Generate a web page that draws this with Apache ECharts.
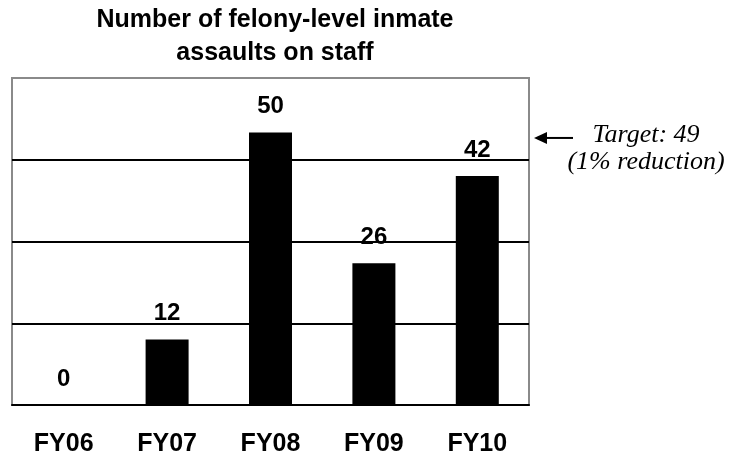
<!DOCTYPE html>
<html>
<head>
<meta charset="utf-8">
<script src="https://cdn.jsdelivr.net/npm/echarts@6/dist/echarts.min.js"></script>
<style>
  html, body { margin: 0; padding: 0; background: #fff; }
  #main { width: 731px; height: 458px; }
</style>
</head>
<body>
<div id="main"></div>
<script>
// data
var years = ['FY06', 'FY07', 'FY08', 'FY09', 'FY10'];
var assaults = [0, 12, 50, 26, 42];
var target = 49;
var titleText = 'Number of felony-level inmate\nassaults on staff';
var targetText = ['Target: 49', '(1% reduction)'];

var chart = echarts.init(document.getElementById('main'));

var option = {
  animation: false,
  title: {
    text: titleText,
    left: 270,
    top: -1,
    textAlign: 'center',
    textStyle: {
      fontFamily: 'Liberation Sans',
      fontWeight: 'bold',
      fontSize: 25,
      lineHeight: 33,
      color: '#000'
    }
  },
  grid: {
    left: 12,
    right: 202,
    top: 78,
    bottom: 53,
    show: true,
    borderColor: '#8a8a8a',
    borderWidth: 2
  },
  xAxis: {
    type: 'category',
    data: years,
    axisLine: { lineStyle: { color: '#000', width: 2 } },
    axisTick: { length: 8, lineStyle: { color: '#000', width: 2 } },
    axisLabel: {
      margin: 27,
      fontFamily: 'Liberation Sans',
      fontWeight: 'bold',
      fontSize: 25,
      color: '#000'
    }
  },
  yAxis: {
    type: 'value',
    min: 0,
    max: 60,
    interval: 15,
    axisLabel: { show: false },
    axisLine: { show: false },
    axisTick: { show: false },
    splitLine: {
      showMinLine: false,
      showMaxLine: false,
      lineStyle: { color: '#000', width: 2 }
    }
  },
  series: [{
    type: 'bar',
    data: assaults,
    barWidth: 43,
    itemStyle: { color: '#000' },
    label: {
      show: true,
      position: 'top',
      distance: 14,
      fontFamily: 'Liberation Sans',
      fontWeight: 'bold',
      fontSize: 24,
      color: '#000'
    }
  }]
};
chart.setOption(option);

// target arrow and note, placed with the chart's own y scale
var ty = chart.convertToPixel({ yAxisIndex: 0 }, target);
var gridRight = 731 - 202;
chart.setOption({
  graphic: [
    {
      type: 'line',
      shape: { x1: gridRight + 16, y1: ty, x2: gridRight + 44, y2: ty },
      style: { stroke: '#000', lineWidth: 2 }
    },
    {
      type: 'polygon',
      shape: { points: [[gridRight + 5, ty], [gridRight + 18, ty - 6], [gridRight + 18, ty + 6]] },
      style: { fill: '#000' }
    },
    {
      type: 'text',
      x: 646, y: ty - 3,
      style: {
        text: targetText[0], align: 'center', verticalAlign: 'middle',
        font: 'italic 26px "Liberation Serif"', fill: '#000'
      }
    },
    {
      type: 'text',
      x: 646, y: ty + 24,
      style: {
        text: targetText[1], align: 'center', verticalAlign: 'middle',
        font: 'italic 26px "Liberation Serif"', fill: '#000'
      }
    }
  ]
});
</script>
</body>
</html>
